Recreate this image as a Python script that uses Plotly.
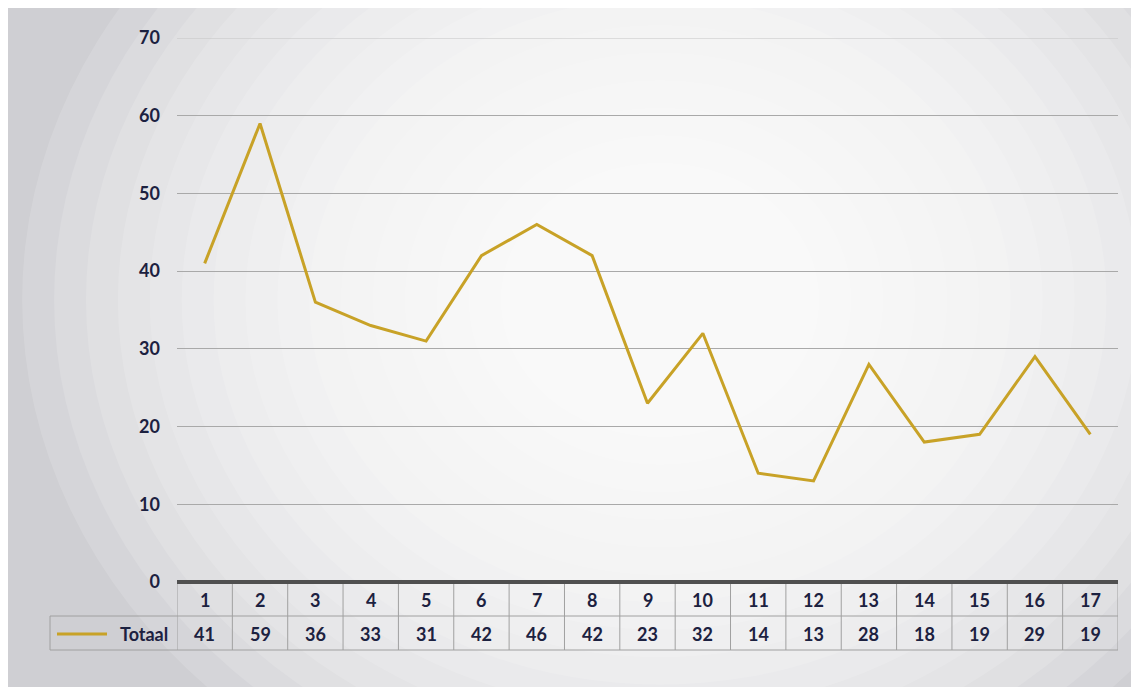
import plotly.graph_objects as go

# data
periods = list(range(1, 18))
totaal = [41, 59, 36, 33, 31, 42, 46, 42, 23, 32, 14, 13, 28, 18, 19, 29, 19]
y_ticks = [0, 10, 20, 30, 40, 50, 60, 70]
series_name = "Totaal"

W, H = 1139, 687
OFF = 8  # the page puts the figure 8px in from the top-left corner
line_col = "#c8a227"
text_col = "#1c2140"
grid_col = "#a9a9a9"
border_col = "#a0a0a0"


def px(x):
    return (x - OFF) / W


def py(y):
    return 1 - (y - OFF) / H


fig = go.Figure()

fig.add_trace(go.Scatter(x=periods, y=totaal, mode="lines",
                         line=dict(color=line_col, width=3),
                         name=series_name, showlegend=False))

shapes = []
# soft bright spot like the scanned background
cx, cy = px(660), py(300)
n = 16
for i in range(n):
    k = 1.0 - i * 0.75 / (n - 1)
    rx, ry = 0.56 * k, 0.80 * k
    shapes.append(dict(type="circle", xref="paper", yref="paper", layer="below",
                       x0=cx - rx, x1=cx + rx, y0=cy - ry, y1=cy + ry,
                       fillcolor="white", opacity=0.14, line=dict(width=0)))

row_top, row_mid, row_bot = 582, 616, 650
left_edge, tab_left, tab_right = 50, 177, 1118

# top grid line (plotly skips the one on the range edge)
shapes.append(dict(type="line", xref="x domain", yref="y",
                   x0=0, x1=1, y0=y_ticks[-1], y1=y_ticks[-1],
                   line=dict(color="#c4c4c4", width=1)))
# horizontal table lines
for yy in (row_mid, row_bot):
    shapes.append(dict(type="line", xref="paper", yref="paper",
                       x0=px(left_edge), x1=px(tab_right), y0=py(yy), y1=py(yy),
                       line=dict(color=border_col, width=1)))
# vertical table lines
shapes.append(dict(type="line", xref="paper", yref="paper",
                   x0=px(left_edge), x1=px(left_edge), y0=py(row_mid), y1=py(row_bot),
                   line=dict(color=border_col, width=1)))
for p in [0] + periods:
    shapes.append(dict(type="line", xref="x", yref="paper",
                       x0=p + 0.5, x1=p + 0.5, y0=py(row_top), y1=py(row_bot),
                       line=dict(color=border_col, width=1)))
# legend key
shapes.append(dict(type="line", xref="paper", yref="paper",
                   x0=px(57), x1=px(107), y0=py(634), y1=py(634),
                   line=dict(color=line_col, width=3)))
# thick base line
shapes.append(dict(type="line", xref="paper", yref="paper",
                   x0=px(tab_left), x1=px(tab_right), y0=py(row_top), y1=py(row_top),
                   line=dict(color="#505050", width=4)))

annotations = []
font = dict(family="Lato, Open Sans, sans-serif", size=18, color=text_col)
for p, v in zip(periods, totaal):
    annotations.append(dict(x=p, y=py(600), xref="x", yref="paper", text=f"<b>{p}</b>",
                            showarrow=False, yanchor="middle", font=font))
    annotations.append(dict(x=p, y=py(634), xref="x", yref="paper", text=f"<b>{v}</b>",
                            showarrow=False, yanchor="middle", font=font))
annotations.append(dict(x=px(170), y=py(634), xref="paper", yref="paper",
                        text=f"<b>{series_name}</b>", showarrow=False,
                        xanchor="right", yanchor="middle", font=font))

fig.update_layout(
    width=W, height=H,
    margin=dict(l=0, r=0, t=0, b=0),
    paper_bgcolor="#cfcfd3",
    plot_bgcolor="rgba(0,0,0,0)",
    shapes=shapes,
    annotations=annotations,
    xaxis=dict(domain=[px(tab_left), px(tab_right)], range=[0.5, 17.5],
               showticklabels=False, showgrid=False, zeroline=False, ticks="",
               automargin=False),
    yaxis=dict(domain=[py(row_top), py(38)], range=[0, 70],
               tickvals=y_ticks, ticktext=[f"<b>{t}</b>" for t in y_ticks],
               tickfont=dict(family="Lato, Open Sans, sans-serif", size=18, color=text_col),
               showgrid=True, gridcolor=grid_col, gridwidth=1, automargin=False,
               zeroline=False, ticks="", ticklabelstandoff=16, showline=False),
)

fig.write_html("out.html")
